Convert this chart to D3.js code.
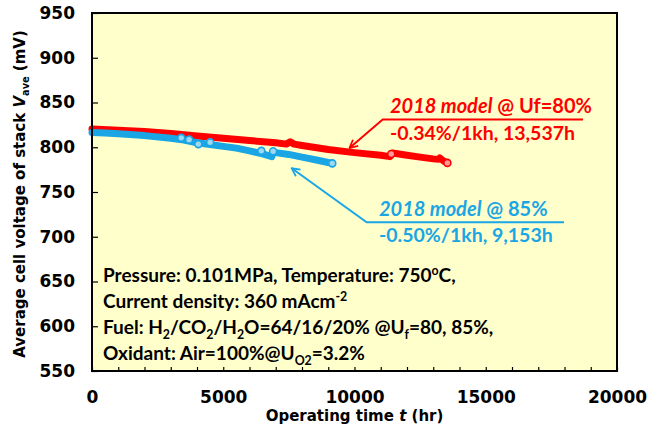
<!DOCTYPE html>
<html>
<head>
<meta charset="utf-8">
<script src="https://cdn.jsdelivr.net/npm/d3@7"></script>
<style>
  body { margin: 0; background: #fff; }
  svg { display: block; }
</style>
</head>
<body>
<div id="chart"></div>
<script>
// values (time in hr, voltage in mV)
var redTime  = [0, 1000, 2000, 3000, 4000, 5000, 6000, 7000, 7400, 7550, 7700, 8000, 9000, 10000, 11000, 11350, 11450, 12000, 12500, 13000, 13200, 13250, 13400, 13537];
var redVolt  = [820.5, 819, 817.5, 815.5, 812.5, 810, 807.5, 805, 803.5, 806, 803.5, 802, 797.5, 794, 791, 789.5, 793.5, 791, 789, 787, 786.5, 788, 784.5, 782.5];
var blueTime = [0, 500, 1000, 2000, 3000, 3500, 4000, 4500, 5000, 5500, 6000, 6500, 6850, 6900, 7000, 7500, 8000, 8500, 9000, 9153];
var blueVolt = [816.5, 816, 815, 813, 810, 808, 805, 803, 801, 799, 796, 792.5, 789.5, 795, 794, 792, 789, 786, 783, 782];
// scattered open markers
var redOpenTime  = [11400, 13537];
var redOpenVolt  = [792.5, 782.5];
var blueOpenTime = [3400, 3700, 4050, 4500, 6450, 6900, 9153];
var blueOpenVolt = [810.5, 808.5, 803.5, 805.5, 796, 795.5, 782];

var xTicks = [0, 1000, 2000, 3000, 4000, 5000, 6000, 7000, 8000, 9000, 10000, 11000, 12000, 13000, 14000, 15000, 16000, 17000, 18000, 19000, 20000];
var xTickLabels = [0, 5000, 10000, 15000, 20000];
var yTicks = [550, 600, 650, 700, 750, 800, 850, 900, 950];

var RED = "#ff0000", BLUE = "#1aa6e4";

var width = 648, height = 427;
var plot = {left: 92, right: 617, top: 13, bottom: 371};

var svg = d3.select("#chart").append("svg")
    .attr("width", width)
    .attr("height", height);

var x = d3.scaleLinear().domain([0, 20000]).range([plot.left, plot.right]);
var y = d3.scaleLinear().domain([550, 950]).range([plot.bottom, plot.top]);

// plot area background
svg.append("rect")
    .attr("x", plot.left).attr("y", plot.top)
    .attr("width", plot.right - plot.left).attr("height", plot.bottom - plot.top)
    .attr("fill", "#ffffcc");

// text with sub / superscript runs
function addRuns(sel, runs, fs) {
    var off = 0;
    runs.forEach(function(r) {
        var target = r[1] == "sub" ? fs * 0.28 : (r[1] == "sup" ? -fs * 0.38 : 0);
        var ts = sel.append("tspan").text(r[0]).attr("dy", (target - off) + "px");
        if (r[1] == "sub" || r[1] == "sup") ts.attr("font-size", (fs * 0.65) + "px");
        if (r[1] == "it") ts.attr("font-style", "italic");
        off = target;
    });
}

// axes (ticks point inward)
var xAxis = svg.append("g")
    .attr("transform", "translate(0," + plot.bottom + ")")
    .call(d3.axisBottom(x).tickValues(xTicks).tickSize(-4).tickPadding(20)
        .tickFormat(function(d) { return xTickLabels.indexOf(d) >= 0 ? d : ""; }));
var yAxis = svg.append("g")
    .attr("transform", "translate(" + plot.left + ",0)")
    .call(d3.axisLeft(y).tickValues(yTicks).tickSize(-6).tickPadding(17));

[xAxis, yAxis].forEach(function(a) {
    a.select(".domain").remove();
    a.selectAll("line").attr("stroke", "#000").attr("stroke-width", 1.2);
    a.selectAll("text")
        .attr("fill", "#000")
        .style("font-family", "DejaVu Sans")
        .style("font-weight", "bold")
        .style("font-size", "17px");
});

// series
var line = d3.line()
    .x(function(d) { return x(d[0]); })
    .y(function(d) { return y(d[1]); });

function drawSeries(times, volts, openT, openV, color, light) {
    var pts = times.map(function(t, i) { return [t, volts[i]]; });
    svg.append("path")
        .datum(pts)
        .attr("d", line)
        .attr("fill", "none")
        .attr("stroke", color)
        .attr("stroke-width", 7)
        .attr("stroke-linecap", "round")
        .attr("stroke-linejoin", "round");
    svg.append("g").selectAll("circle")
        .data(openT.map(function(t, i) { return [t, openV[i]]; }))
        .enter().append("circle")
            .attr("cx", function(d) { return x(d[0]); })
            .attr("cy", function(d) { return y(d[1]); })
            .attr("r", 3.5)
            .attr("fill", light)
            .attr("stroke", color)
            .attr("stroke-width", 1.6);
}
drawSeries(redTime, redVolt, redOpenTime, redOpenVolt, RED, "#ff9a9a");
drawSeries(blueTime, blueVolt, blueOpenTime, blueOpenVolt, BLUE, "#9fd8f3");

// plot border
svg.append("rect")
    .attr("x", plot.left).attr("y", plot.top)
    .attr("width", plot.right - plot.left).attr("height", plot.bottom - plot.top)
    .attr("fill", "none")
    .attr("stroke", "#000")
    .attr("stroke-width", 2);

// arrow markers
function marker(id, color) {
    svg.append("defs").append("marker")
        .attr("id", id)
        .attr("viewBox", "0 0 10 10")
        .attr("refX", 9).attr("refY", 5)
        .attr("markerWidth", 10).attr("markerHeight", 10)
        .attr("markerUnits", "userSpaceOnUse")
        .attr("orient", "auto")
      .append("path")
        .attr("d", "M1,1 L9,5 L1,9")
        .attr("fill", "none")
        .attr("stroke", color)
        .attr("stroke-width", 1.8);
}
marker("arrowRed", RED);
marker("arrowBlue", BLUE);

var labelFont = "Lato";

// red annotation
svg.append("polyline")
    .attr("points", "583,119.5 382.7,119.5 349.5,148")
    .attr("fill", "none").attr("stroke", RED).attr("stroke-width", 2)
    .attr("marker-end", "url(#arrowRed)");
var rt1 = svg.append("text").attr("x", 390).attr("y", 113)
    .attr("fill", RED).style("font-family", labelFont).style("font-weight", "bold").style("font-size", "20px");
addRuns(rt1, [["2018 model", "it"], [" @ Uf=80%"]], 20);
svg.append("text").attr("x", 390).attr("y", 139.5)
    .attr("fill", RED).style("font-family", labelFont).style("font-weight", "bold").style("font-size", "19.5px")
    .text("-0.34%/1kh, 13,537h");

// blue annotation
svg.append("polyline")
    .attr("points", "564,222.3 366.7,222.3 291.7,168.3")
    .attr("fill", "none").attr("stroke", BLUE).attr("stroke-width", 2)
    .attr("marker-end", "url(#arrowBlue)");
var bt1 = svg.append("text").attr("x", 379).attr("y", 216)
    .attr("fill", BLUE).style("font-family", labelFont).style("font-weight", "bold").style("font-size", "20px");
addRuns(bt1, [["2018 model", "it"], [" @ 85%"]], 20);
svg.append("text").attr("x", 379).attr("y", 242)
    .attr("fill", BLUE).style("font-family", labelFont).style("font-weight", "bold").style("font-size", "19.5px")
    .text("-0.50%/1kh, 9,153h");

// test conditions
var conditionLines = [
    [["Pressure: 0.101MPa, Temperature: 750"], ["o", "sup"], ["C,"]],
    [["Current density: 360 mAcm"], ["-2", "sup"]],
    [["Fuel: H"], ["2", "sub"], ["/CO"], ["2", "sub"], ["/H"], ["2", "sub"], ["O=64/16/20% @U"], ["f", "sub"], ["=80, 85%,"]],
    [["Oxidant: Air=100%@U"], ["O2", "sub"], ["=3.2%"]]
];
conditionLines.forEach(function(runs, i) {
    var t = svg.append("text")
        .attr("x", 103).attr("y", 282 + i * 26)
        .attr("fill", "#000")
        .style("font-family", labelFont).style("font-weight", "bold").style("font-size", "19px");
    addRuns(t, runs, 19);
});

// axis titles
var xt = svg.append("text")
    .attr("x", (plot.left + plot.right) / 2).attr("y", 421)
    .attr("text-anchor", "middle")
    .style("font-family", "DejaVu Sans").style("font-weight", "bold").style("font-size", "15px");
addRuns(xt, [["Operating time "], ["t", "it"], [" (hr)"]], 15);

var yt = svg.append("text")
    .attr("transform", "translate(25," + ((plot.top + plot.bottom) / 2 + 2) + ") rotate(-90)")
    .attr("text-anchor", "middle")
    .style("font-family", "DejaVu Sans").style("font-weight", "bold").style("font-size", "15px");
addRuns(yt, [["Average cell voltage of stack "], ["V", "it"], ["ave", "sub"], [" (mV)"]], 15);
</script>
</body>
</html>
